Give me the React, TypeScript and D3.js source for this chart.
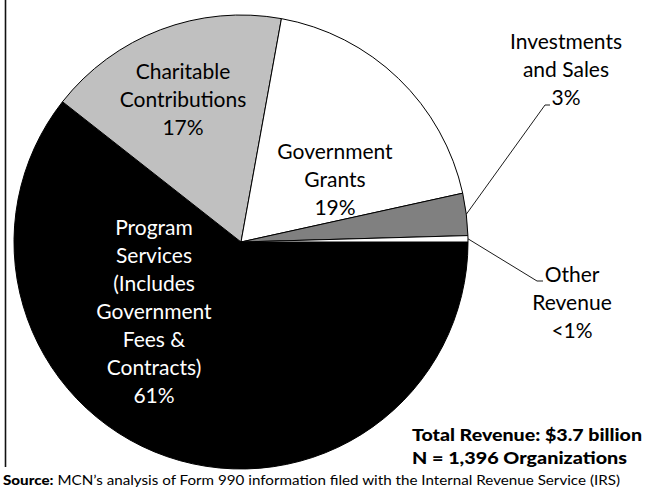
import * as d3 from "d3";
import React from "react";

// revenue shares
const categories = [
  "Program Services",
  "Charitable Contributions",
  "Government Grants",
  "Investments and Sales",
  "Other Revenue",
];
const shares = [60.6, 17.25, 18.7, 3.0, 0.45];
const pctLabels = ["61%", "17%", "19%", "3%", "<1%"];
const labelLines = [
  ["Program", "Services", "(Includes", "Government", "Fees &", "Contracts)"],
  ["Charitable", "Contributions"],
  ["Government", "Grants"],
  ["Investments", "and Sales"],
  ["Other", "Revenue"],
];
const fills = ["#000000", "#c0c0c0", "#ffffff", "#808080", "#ffffff"];
const textFills = ["#ffffff", "#000000", "#000000", "#000000", "#000000"];

const totalLines = ["Total Revenue: $3.7 billion", "N = 1,396 Organizations"];
const sourceBold = "Source:";
const sourceText = " MCN\u2019s analysis of Form 990 information filed with the Internal Revenue Service (IRS)";

const width = 645;
const height = 494;
const cx = 241;
const cy = 242;
const radius = 227;
const lineH = 28;
const font = "Lato, 'Open Sans', sans-serif";

// label anchors (center of first line) and leader elbows for outside labels
const labelPos = [
  { x: 154, y: 228 },
  { x: 183, y: 72 },
  { x: 335, y: 152 },
  { x: 566, y: 42 },
  { x: 572, y: 275 },
];
const leaders: (null | { elbow: [number, number]; end: [number, number] })[] = [
  null,
  null,
  null,
  { elbow: [545, 105], end: [550, 105] },
  { elbow: [537, 281], end: [543, 281] },
];

interface Slice {
  name: string;
  value: number;
  index: number;
}

export default function App() {
  const data: Slice[] = categories.map((name, i) => ({ name, value: shares[i], index: i }));

  const pie = d3
    .pie<Slice>()
    .sort(null)
    .value((d) => d.value)
    .startAngle(Math.PI / 2)
    .endAngle(Math.PI / 2 + Math.PI * 2);

  const arcs = pie(data);
  const arc = d3.arc<d3.PieArcDatum<Slice>>().innerRadius(0).outerRadius(radius);
  const edge = d3.arc<d3.PieArcDatum<Slice>>().innerRadius(radius).outerRadius(radius);

  return (
    <svg
      width={width}
      height={height}
      style={{ position: "absolute", left: 0, top: 0, background: "#fff" }}
    >
      <rect x={0} y={0} width={width} height={height} fill="#fff" />
      <line x1={5.5} y1={0} x2={5.5} y2={467} stroke="#111" strokeWidth={1.6} />
      <g transform={`translate(${cx},${cy})`}>
        {arcs.map((a) => (
          <path
            key={a.data.name}
            d={arc(a) || ""}
            fill={fills[a.data.index]}
            stroke="#000"
            strokeWidth={1}
            strokeLinejoin="round"
          />
        ))}
      </g>
      {arcs.map((a) => {
        const l = leaders[a.data.index];
        if (!l) return null;
        const [px, py] = edge.centroid(a);
        const pts: [number, number][] = [[cx + px, cy + py], l.elbow, l.end];
        return (
          <path
            key={"leader" + a.data.index}
            d={d3.line()(pts) || ""}
            fill="none"
            stroke="#000"
            strokeWidth={0.9}
          />
        );
      })}
      {arcs.map((a) => {
        const i = a.data.index;
        const p = labelPos[i];
        const lines = [...labelLines[i], pctLabels[i]];
        return (
          <text
            key={"label" + i}
            textAnchor="middle"
            fontFamily={font}
            fontSize={21}
            fill={textFills[i]}
          >
            {lines.map((t, j) => (
              <tspan key={j} x={p.x} y={p.y + j * lineH} dy="0.35em">
                {t}
              </tspan>
            ))}
          </text>
        );
      })}
      {totalLines.map((t, j) => (
        <text
          key={"tot" + j}
          x={412}
          y={435 + j * 23}
          dy="0.35em"
          fontFamily={font}
          fontWeight={900}
          fontSize={17}
          textLength={j === 0 ? 230 : 215}
          lengthAdjust="spacingAndGlyphs"
        >
          {t}
        </text>
      ))}
      <text
        x={3}
        y={480}
        dy="0.35em"
        fontFamily={font}
        fontSize={14}
        textLength={617}
        lengthAdjust="spacingAndGlyphs"
      >
        <tspan fontWeight={900}>{sourceBold}</tspan>
        <tspan>{sourceText}</tspan>
      </text>
    </svg>
  );
}
